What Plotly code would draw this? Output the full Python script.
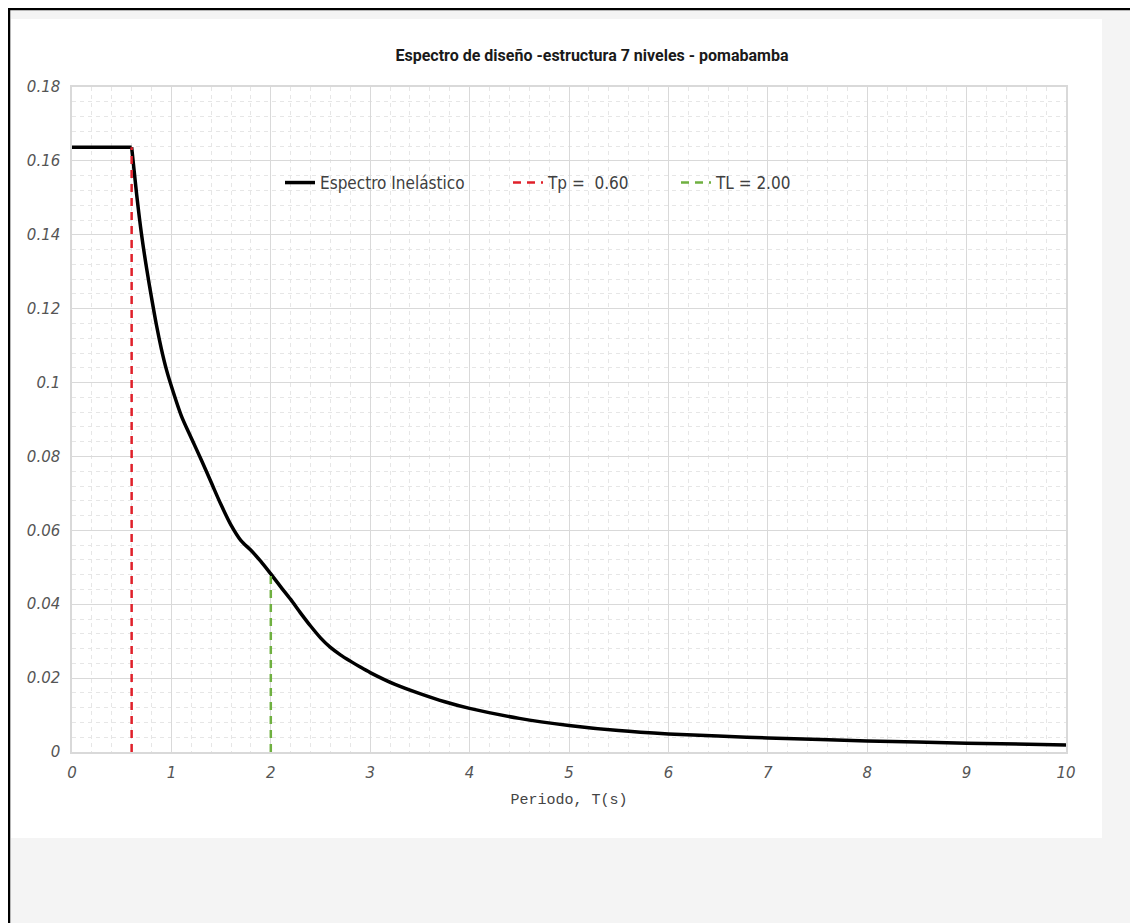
import plotly.graph_objects as go

# ---- data ----
plateau_t = [0, 0.6]
plateau_sa = [0.1637, 0.1637]

periods = [0.6, 0.65, 0.7, 0.75, 0.8, 0.85, 0.9, 0.95, 1.0,
           1.1, 1.2, 1.3, 1.4, 1.5, 1.6, 1.7, 1.8, 1.9, 2.0, 2.1, 2.2, 2.3, 2.4, 2.5,
           2.6, 2.7, 2.8, 2.9, 3.0, 3.25, 3.5, 3.75, 4.0, 4.5, 5.0, 5.5, 6.0, 6.5, 7.0,
           8.0, 9.0, 10.0]
sa = [0.1637, 0.151, 0.140, 0.131, 0.123, 0.1155, 0.109, 0.1035, 0.0990,
      0.0910, 0.0850, 0.0791, 0.0730, 0.0669, 0.0614, 0.0572, 0.0546, 0.0516, 0.0482,
      0.0447, 0.0413, 0.0376, 0.0341, 0.0309, 0.0283, 0.0263, 0.0246, 0.0230, 0.0215,
      0.0183, 0.0158, 0.0136, 0.0118, 0.0091, 0.0072, 0.0058, 0.0049, 0.0043, 0.0038,
      0.0030, 0.0024, 0.0019]

tp_x = [0.6, 0.6]
tp_y = [0.0, 0.1637]
tl_x = [2.0, 2.0]
tl_y = [0.0, 0.0482]

x_ticks = [0, 1, 2, 3, 4, 5, 6, 7, 8, 9, 10]
x_tick_text = ["0", "1", "2", "3", "4", "5", "6", "7", "8", "9", "10"]
y_ticks = [0, 0.02, 0.04, 0.06, 0.08, 0.1, 0.12, 0.14, 0.16, 0.18]
y_tick_text = ["0", "0.02", "0.04", "0.06", "0.08", "0.1", "0.12", "0.14", "0.16", "0.18"]

title_text = "Espectro de diseño -estructura 7 niveles - pomabamba"
x_title = "Periodo, T(s)"
names = ["Espectro Inelástico", "Tp =\u00a0 0.60", "TL = 2.00"]

# ---- geometry (page pixel coords; the page body adds an 8px offset) ----
OFF = 8
W, H = 1138 - OFF, 923 - OFF
L, R, T, B = 72, 1066, 87, 752          # plot area in page coords
PW, PH = R - L, B - T

def px(x):
    return (x - L) / PW

def py(y):
    return (B - y) / PH

narrow = "Liberation Sans Narrow, DejaVu Sans Condensed, Arial Narrow, sans-serif"
legend_font = dict(family=narrow, size=17, color="#404040")

fig = go.Figure()
fig.add_trace(go.Scatter(x=plateau_t, y=plateau_sa, mode="lines", showlegend=False,
                         line=dict(color="black", width=3.5), hoverinfo="skip"))
fig.add_trace(go.Scatter(x=periods, y=sa, mode="lines", name=names[0], legend="legend",
                         line=dict(color="black", width=3.5, shape="spline", smoothing=0.8)))
fig.add_trace(go.Scatter(x=tp_x, y=tp_y, mode="lines", name=names[1], legend="legend2",
                         line=dict(color="#e0202a", width=2.5, dash="8px,6px")))
fig.add_trace(go.Scatter(x=tl_x, y=tl_y, mode="lines", name=names[2], legend="legend3",
                         line=dict(color="#6fb040", width=2.5, dash="8px,6px")))

shapes = [
    # grey frame background
    dict(type="rect", xref="paper", yref="paper", x0=px(9), x1=px(1145), y0=py(930), y1=py(OFF),
         fillcolor="#f4f4f4", line=dict(width=0), layer="below"),
    # white chart panel
    dict(type="rect", xref="paper", yref="paper", x0=px(11), x1=px(1102), y0=py(838), y1=py(19),
         fillcolor="white", line=dict(width=0), layer="below"),
    # black top and left frame lines
    dict(type="line", xref="paper", yref="paper", x0=px(8), x1=px(1145), y0=py(OFF + 1), y1=py(OFF + 1),
         line=dict(color="black", width=2.5), layer="below"),
    dict(type="line", xref="paper", yref="paper", x0=px(OFF + 1), x1=px(OFF + 1), y0=py(OFF), y1=py(930),
         line=dict(color="black", width=2.5), layer="below"),
]

def leg(x_text_start):
    return dict(orientation="h", x=px(x_text_start - 40), xanchor="left", y=py(183), yanchor="middle",
                bgcolor="rgba(0,0,0,0)", borderwidth=0, font=legend_font)

fig.update_layout(
    width=W, height=H,
    margin=dict(l=L - OFF, r=(W + OFF) - R, t=T - OFF, b=(H + OFF) - B, autoexpand=False),
    paper_bgcolor="white",
    plot_bgcolor="white",
    shapes=shapes,
    title=dict(text=title_text, x=(592 - OFF) / W, xanchor="center",
               y=1 - (55 - OFF) / H, yanchor="middle", xref="container", yref="container",
               font=dict(family="Roboto, Lato, sans-serif", size=16, color="#1a1a1a", weight=700)),
    legend=leg(320),
    legend2=leg(548),
    legend3=leg(716),
    showlegend=True,
)

tick_font = dict(family="DejaVu Sans, Verdana, sans-serif", size=15, color="#555", style="italic")
fig.update_xaxes(range=[0, 10], tickvals=x_ticks, ticktext=x_tick_text,
                 showgrid=True, gridcolor="#d9d9d9", gridwidth=1,
                 minor=dict(dtick=0.2, showgrid=True, gridcolor="#e6e6e6", griddash="4px,4px", gridwidth=1),
                 showline=True, linecolor="#d9d9d9", linewidth=1.5, mirror=True,
                 zeroline=False, ticks="", ticklen=0, ticklabelstandoff=6,
                 tickfont=tick_font,
                 title=dict(text=x_title, standoff=13,
                            font=dict(family="Liberation Mono, DejaVu Sans Mono, monospace", size=15, color="#444")))
fig.update_yaxes(range=[0, 0.18], tickvals=y_ticks, ticktext=y_tick_text,
                 showgrid=True, gridcolor="#d9d9d9", gridwidth=1,
                 minor=dict(dtick=0.004, showgrid=True, gridcolor="#e6e6e6", griddash="4px,4px", gridwidth=1),
                 showline=True, linecolor="#d9d9d9", linewidth=1.5, mirror=True,
                 zeroline=False, ticks="", ticklen=0, ticklabelstandoff=7,
                 tickfont=tick_font)

fig.write_html("out.html")
